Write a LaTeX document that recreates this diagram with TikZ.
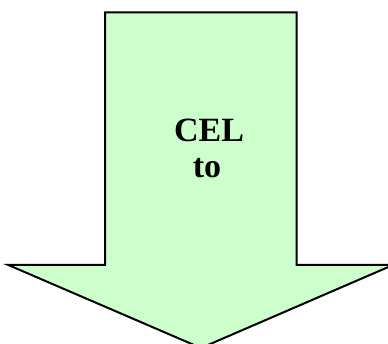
\documentclass[tikz,border=0pt]{standalone}
\usepackage{fontspec}
\setmainfont{Liberation Serif}
\definecolor{arrowfill}{HTML}{CCFFCC}
\tikzset{
  bigarrow/.style={draw=black, line width=2pt, fill=arrowfill, line join=miter},
  lbl/.style={font=\fontsize{34}{36}\selectfont\bfseries, inner sep=0pt, anchor=base}
}
\begin{document}
\begin{tikzpicture}[x=1pt,y=1pt]
  \useasboundingbox (0,0) rectangle (388,344);
  \clip (0,0) rectangle (388,344);
  \fill[white] (0,0) rectangle (388,344);
  \draw[bigarrow] (105,331.7) -- (296.7,331.7) -- (296.7,79) -- (393,79)
    -- (201,-4) -- (8.3,79) -- (105,79) -- cycle;
  \node[lbl] (cel) at (209,202.3) {CEL};
  \node[lbl] (to) at (207,166) {to};
\end{tikzpicture}
\end{document}
